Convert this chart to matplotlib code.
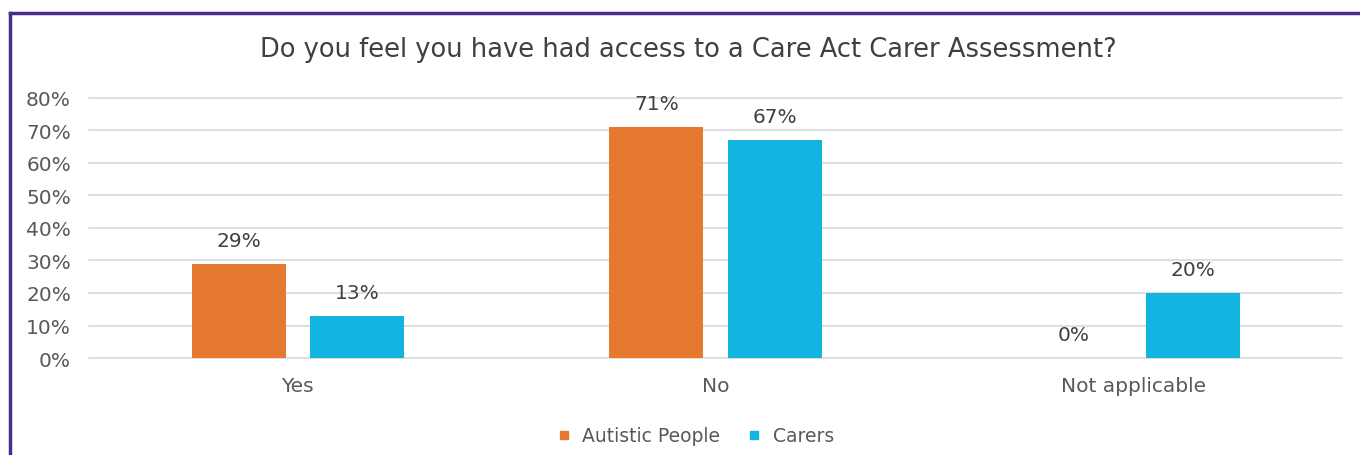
import matplotlib.pyplot as plt
from matplotlib.lines import Line2D
import numpy as np

categories = ['Yes', 'No', 'Not applicable']
autistic = [29, 71, 0]
carers = [13, 67, 20]
series_names = ['Autistic People', 'Carers']

orange = '#E4792F'
cyan = '#12B5E0'
grey = '#595959'

plt.rcParams['font.family'] = ['DejaVu Sans']

fig = plt.figure(figsize=(13.6, 4.56), dpi=100)
ax = fig.add_axes([0.0654, 0.2127, 0.9216, 0.5703])

x = np.arange(len(categories))
w = 0.225
off = 0.142
b1 = ax.bar(x - off, autistic, w, color=orange, label=series_names[0], zorder=3)
b2 = ax.bar(x + off, carers, w, color=cyan, label=series_names[1], zorder=3)

for bars, vals in ((b1, autistic), (b2, carers)):
    for r, v in zip(bars, vals):
        ax.annotate(f'{v}%', (r.get_x() + r.get_width() / 2, v),
                    xytext=(0, 17), textcoords='offset points',
                    ha='center', va='center', fontsize=14.5, color='#404040')

ax.set_xlim(-0.5, 2.5)
ax.set_ylim(0, 80)
ax.set_yticks(range(0, 81, 10))
ax.set_yticklabels([f'{t}%' for t in range(0, 81, 10)])
ax.set_xticks(x)
ax.set_xticklabels(categories)
ax.tick_params(axis='both', length=0, labelsize=14.5, labelcolor=grey)
ax.tick_params(axis='x', pad=13)
ax.tick_params(axis='y', pad=13)
ax.grid(axis='y', color='#d9d9d9', linewidth=1.2, zorder=0)
for gl in ax.get_ygridlines():
    gl.set_clip_on(False)
for s in ax.spines.values():
    s.set_visible(False)

fig.text(0.506, 0.89, 'Do you feel you have had access to a Care Act Carer Assessment?',
         ha='center', va='center', fontsize=18.5, color='#404040')

handles = [Line2D([], [], marker='s', linestyle='none', color=orange, markersize=6),
           Line2D([], [], marker='s', linestyle='none', color=cyan, markersize=6)]
fig.legend(handles, series_names, loc='center', bbox_to_anchor=(0.507, 0.042),
           ncol=2, frameon=False, fontsize=13.5, handletextpad=0.0, columnspacing=0.8,
           labelcolor=grey)

# purple frame (top and left edges visible)
fig.add_artist(Line2D([10 / 1360, 1], [1 - 14 / 456, 1 - 14 / 456], color='#4B2C8A', linewidth=2.5))
fig.add_artist(Line2D([10 / 1360, 10 / 1360], [0, 1 - 14 / 456], color='#4B2C8A', linewidth=2.5))

fig.savefig('out.png', dpi=100)
